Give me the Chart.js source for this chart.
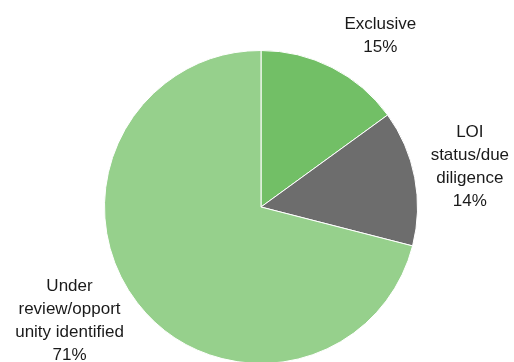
<!DOCTYPE html>
<html>
<head>
<meta charset="utf-8">
<script src="https://cdn.jsdelivr.net/npm/chart.js@4/dist/chart.umd.min.js"></script>
<style>
  html, body { margin: 0; padding: 0; background: #fff; }
  #wrap { width: 514px; height: 362px; overflow: hidden; position: relative; }
  canvas { display: block; }
</style>
</head>
<body>
<div id="wrap">
  <canvas id="pie" width="514" height="380" style="width:514px;height:380px"></canvas>
</div>
<script>
// データ
const categories = [
  ['Exclusive'],
  ['LOI', 'status/due', 'diligence'],
  ['Under', 'review/opport', 'unity identified']
]
const shares = [15, 14, 71]
const sliceColors = ['#72bf66', '#6d6d6d', '#96d08c']

// label placement: angle (deg, 0 = right, clockwise) and distance as factor of radius
const labelPlace = [
  { angle: -55.3, dist: 1.34 },
  { angle: -11.1, dist: 1.36 },
  { angle: 149.5, dist: 1.42 }
]

const outsideLabels = {
  id: 'outsideLabels',
  afterDatasetsDraw(chart) {
    const c = chart.ctx
    const meta = chart.getDatasetMeta(0)
    c.save()
    c.font = '17px "Liberation Sans", Arial, sans-serif'
    c.fillStyle = '#1a1a1a'
    c.textAlign = 'center'
    c.textBaseline = 'middle'
    const lh = 23
    meta.data.forEach((arc, i) => {
      const p = labelPlace[i]
      const a = p.angle * Math.PI / 180
      const cx = arc.x + Math.cos(a) * arc.outerRadius * p.dist
      const cy = arc.y + Math.sin(a) * arc.outerRadius * p.dist
      const lines = categories[i].concat([shares[i] + '%'])
      const top = cy - (lines.length - 1) * lh / 2
      lines.forEach((t, k) => c.fillText(t, cx, top + k * lh + 1))
    })
    c.restore()
  }
}

new Chart(document.getElementById('pie'), {
  type: 'pie',
  data: {
    labels: categories.map(l => l.join(' ')),
    datasets: [{
      data: shares,
      backgroundColor: sliceColors,
      borderColor: '#ffffff',
      borderWidth: 1
    }]
  },
  options: {
    responsive: false,
    animation: false,
    devicePixelRatio: 1,
    rotation: 0,
    layout: { padding: { top: 50, bottom: 16, left: 104, right: 96 } },
    plugins: {
      legend: { display: false },
      tooltip: { enabled: false }
    }
  },
  plugins: [outsideLabels]
})
</script>
</body>
</html>
